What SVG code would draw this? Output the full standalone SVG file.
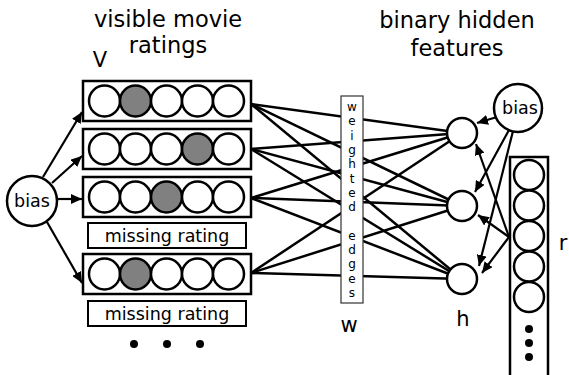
<svg xmlns="http://www.w3.org/2000/svg" width="569" height="375" viewBox="0 0 569 375">
<style>
text{font-family:"DejaVu Sans","Liberation Sans",sans-serif;fill:#000}
.t{font-size:22.5px;text-anchor:middle}
.lbl{font-size:21px;text-anchor:middle}
.sm{font-size:17.5px;text-anchor:middle}
.we{font-size:12px;text-anchor:middle}
.box{fill:#fff;stroke:#000;stroke-width:2.5}
.c{fill:#fff;stroke:#000;stroke-width:2.5}
.g{fill:#808080;stroke:#000;stroke-width:2.5}
.dot{fill:#000}
.ln{stroke:#000;stroke-width:2.5;fill:none}
.ar{stroke:#000;stroke-width:2.2;fill:none;marker-end:url(#ah)}
</style>
<defs>
<marker id="ah" markerUnits="userSpaceOnUse" markerWidth="12" markerHeight="10" refX="11" refY="5" orient="auto">
<path d="M0,0 L11,5 L0,10 Z" fill="#000"/>
</marker>
</defs>
<rect width="569" height="375" fill="#fff"/>
<g id="titles">
<text class="t" x="168" y="27">visible movie</text>
<text class="t" x="168" y="53">ratings</text>
<text class="t" x="457" y="28">binary hidden</text>
<text class="t" x="457" y="56">features</text>
<text class="lbl" x="100" y="67">V</text>
<text class="lbl" x="349" y="332">w</text>
<text class="lbl" x="463" y="326">h</text>
<text class="lbl" x="563" y="250">r</text>
</g>
<g id="connectors">
<line class="ln" x1="251" y1="104" x2="462" y2="133"/>
<line class="ln" x1="251" y1="104" x2="462" y2="206"/>
<line class="ln" x1="251" y1="104" x2="462" y2="279"/>
<line class="ln" x1="251" y1="149" x2="462" y2="133"/>
<line class="ln" x1="251" y1="149" x2="462" y2="206"/>
<line class="ln" x1="251" y1="149" x2="462" y2="279"/>
<line class="ln" x1="251" y1="198" x2="462" y2="133"/>
<line class="ln" x1="251" y1="198" x2="462" y2="206"/>
<line class="ln" x1="251" y1="198" x2="462" y2="279"/>
<line class="ln" x1="251" y1="273" x2="462" y2="133"/>
<line class="ln" x1="251" y1="273" x2="462" y2="206"/>
<line class="ln" x1="251" y1="273" x2="462" y2="279"/>
<line class="ar" x1="43" y1="177" x2="82" y2="112"/>
<line class="ar" x1="52" y1="183" x2="82" y2="156"/>
<line class="ar" x1="57" y1="199" x2="82" y2="199"/>
<line class="ar" x1="47" y1="222" x2="82" y2="283"/>
<line class="ar" x1="497" y1="117" x2="477" y2="123"/>
<line class="ar" x1="509" y1="130" x2="475" y2="192"/>
<line class="ar" x1="513" y1="131" x2="479" y2="266"/>
<line class="ar" x1="509" y1="237" x2="476" y2="144"/>
<line class="ar" x1="509" y1="237" x2="478" y2="215"/>
<line class="ar" x1="509" y1="237" x2="482" y2="273"/>
</g>
<g id="weighted-edges">
<rect x="341" y="96" width="22" height="207" fill="#fff" stroke="#333" stroke-width="1.2"/>
<text class="we"><tspan x="352" y="111">w</tspan><tspan x="352" y="125.3">e</tspan><tspan x="352" y="139.6">i</tspan><tspan x="352" y="153.9">g</tspan><tspan x="352" y="168.2">h</tspan><tspan x="352" y="182.5">t</tspan><tspan x="352" y="196.8">e</tspan><tspan x="352" y="211.1">d</tspan><tspan x="352" y="239.7">e</tspan><tspan x="352" y="254">d</tspan><tspan x="352" y="268.3">g</tspan><tspan x="352" y="282.6">e</tspan><tspan x="352" y="296.9">s</tspan></text>
</g>
<g id="bias-left">
<circle class="c" cx="32" cy="201" r="25"/>
<text class="sm" x="32" y="207">bias</text>
</g>
<g id="row1">
<rect class="box" x="83" y="81" width="168" height="40"/>
<circle class="c" cx="104.5" cy="101" r="15.5"/>
<circle class="g" cx="135.5" cy="101" r="15.5"/>
<circle class="c" cx="166.5" cy="101" r="15.5"/>
<circle class="c" cx="197.5" cy="101" r="15.5"/>
<circle class="c" cx="228.5" cy="101" r="15.5"/>
</g>
<g id="row2">
<rect class="box" x="83" y="129" width="168" height="40"/>
<circle class="c" cx="104.5" cy="149" r="15.5"/>
<circle class="c" cx="135.5" cy="149" r="15.5"/>
<circle class="c" cx="166.5" cy="149" r="15.5"/>
<circle class="g" cx="197.5" cy="149" r="15.5"/>
<circle class="c" cx="228.5" cy="149" r="15.5"/>
</g>
<g id="row3">
<rect class="box" x="83" y="177" width="168" height="40"/>
<circle class="c" cx="104.5" cy="197" r="15.5"/>
<circle class="c" cx="135.5" cy="197" r="15.5"/>
<circle class="g" cx="166.5" cy="197" r="15.5"/>
<circle class="c" cx="197.5" cy="197" r="15.5"/>
<circle class="c" cx="228.5" cy="197" r="15.5"/>
</g>
<g id="missing1">
<rect x="88" y="223" width="158" height="25" fill="#fff" stroke="#000" stroke-width="2"/>
<text class="sm" x="167" y="242">missing rating</text>
</g>
<g id="row4">
<rect class="box" x="83" y="254" width="168" height="40"/>
<circle class="c" cx="104.5" cy="274" r="15.5"/>
<circle class="g" cx="135.5" cy="274" r="15.5"/>
<circle class="c" cx="166.5" cy="274" r="15.5"/>
<circle class="c" cx="197.5" cy="274" r="15.5"/>
<circle class="c" cx="228.5" cy="274" r="15.5"/>
</g>
<g id="missing2">
<rect x="88" y="301" width="158" height="25" fill="#fff" stroke="#000" stroke-width="2"/>
<text class="sm" x="167" y="320">missing rating</text>
</g>
<g id="more-rows">
<circle class="dot" cx="134" cy="344" r="4"/>
<circle class="dot" cx="167" cy="344" r="4"/>
<circle class="dot" cx="200" cy="344" r="4"/>
</g>
<g id="h1"><circle class="c" cx="462" cy="133" r="15"/></g>
<g id="h2"><circle class="c" cx="462" cy="206" r="15"/></g>
<g id="h3"><circle class="c" cx="462" cy="279" r="15"/></g>
<g id="bias-right">
<circle class="c" cx="518" cy="108" r="24"/>
<text class="sm" x="520" y="114">bias</text>
</g>
<g id="r-column">
<rect class="box" x="510" y="157" width="38" height="230"/>
<circle class="c" cx="529" cy="175" r="15"/>
<circle class="c" cx="529" cy="205.5" r="15"/>
<circle class="c" cx="529" cy="236" r="15"/>
<circle class="c" cx="529" cy="266.5" r="15"/>
<circle class="c" cx="529" cy="297" r="15"/>
<circle class="dot" cx="529" cy="329" r="4"/>
<circle class="dot" cx="529" cy="343" r="4"/>
<circle class="dot" cx="529" cy="357" r="4"/>
</g>
</svg>
